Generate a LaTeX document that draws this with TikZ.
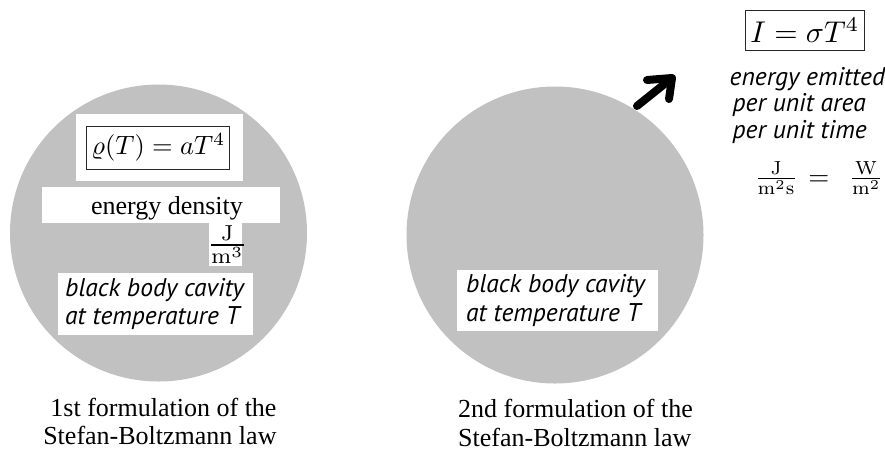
\documentclass[tikz,border=0pt]{standalone}
\usepackage{amsmath}
\usepackage{graphicx}
\usepackage[no-math]{fontspec}
\setmainfont{Liberation Serif}
\newfontfamily\labelfont{PT Sans}
\definecolor{cavity}{RGB}{193,193,193}
\definecolor{framec}{RGB}{40,40,40}
% math set at 10pt and enlarged
\newcommand{\bigmath}[2]{\scalebox{#1}{$#2$}}

\begin{document}
\begin{tikzpicture}[x=1pt,y=-1pt,
  cavitydisk/.style={circle, fill=cavity, inner sep=0pt, minimum size=297pt},
  whitebox/.style={fill=white, inner sep=0pt},
  eqframe/.style={draw=framec, line width=1pt, inner sep=0pt},
  capt/.style={font=\fontsize{26}{30}\selectfont, inner sep=0pt},
  itl/.style={font=\labelfont\itshape\fontsize{25.6}{28}\selectfont, inner sep=0pt, anchor=base west},
  mathlbl/.style={inner sep=0pt},
  fatarrow/.style={line width=8pt, line cap=round, line join=round}]
\useasboundingbox (0,0) rectangle (885,451);

% the two cavities
\node[cavitydisk] (c1) at (158.5,233) {};
\node[cavitydisk] (c2) at (555,235) {};

% first formulation: energy density
\node[whitebox, minimum width=166.7pt, minimum height=67pt] (fbox1) at (159.3,147.5) {};
\node[eqframe, minimum width=143.3pt, minimum height=43pt] (eq1) at (158.3,147.5)
  {\bigmath{2.65}{\varrho(T) = aT^4}};
\node[whitebox, minimum width=238.3pt, minimum height=36pt] (dbox) at (160.8,205.3) {};
\node[capt, anchor=base] (dtext) at (167,214.3) {energy density};
\node[whitebox, minimum width=33pt, minimum height=42.7pt] (ubox1) at (225.8,244.7) {};
\node[mathlbl] (unit1) at (227.3,244.6) {\bigmath{3.1}{\frac{\mathrm{J}}{\mathrm{m}^3}}};

\node[whitebox, minimum width=195pt, minimum height=61.7pt] (bbox1) at (155.8,303.9) {};
\node[itl] (bb1a) at (65,296.3) {black body cavity};
\node[itl] (bb1b) at (65,324.7) {at temperature \textit{T}};

\node[capt, anchor=base east] (cap1a) at (276.7,416) {1st formulation of the};
\node[capt, anchor=base east] (cap1b) at (276.7,444) {Stefan-Boltzmann law};

% second formulation: emitted intensity
\node[whitebox, minimum width=200.4pt, minimum height=61pt] (bbox2) at (557.5,300.5) {};
\node[itl] (bb2a) at (466,292) {black body cavity};
\node[itl] (bb2b) at (466,321.5) {at temperature \textit{T}};

\node[capt, anchor=base west] (cap2a) at (458,417.7) {2nd formulation of the};
\node[capt, anchor=base west] (cap2b) at (458,446.7) {Stefan-Boltzmann law};

\node[eqframe, fill=white, minimum width=118.3pt, minimum height=40.7pt] (eq2) at (804.9,30.4)
  {\bigmath{3}{I = \sigma T^4}};
\node[itl] (em1) at (729.5,85.5) {energy emitted};
\node[itl] (em2) at (732.5,111.7) {per unit area};
\node[itl] (em3) at (732.5,138.5) {per unit time};
\node[mathlbl] (unit2) at (819,178.3)
  {\bigmath{2.7}{\frac{\mathrm{J}}{\mathrm{m}^2\mathrm{s}}\mkern2mu=\mkern8mu\frac{\mathrm{W}}{\mathrm{m}^2}}};

% outgoing radiation arrow
\coordinate (tail) at (637,106);
\coordinate (tip) at (672,78);
\coordinate (armL) at (647,80);
\coordinate (armD) at (669,99);
\draw[fatarrow] (tail) -- (tip);
\draw[fatarrow] (armL) -- (tip) -- (armD);
\end{tikzpicture}
\end{document}
